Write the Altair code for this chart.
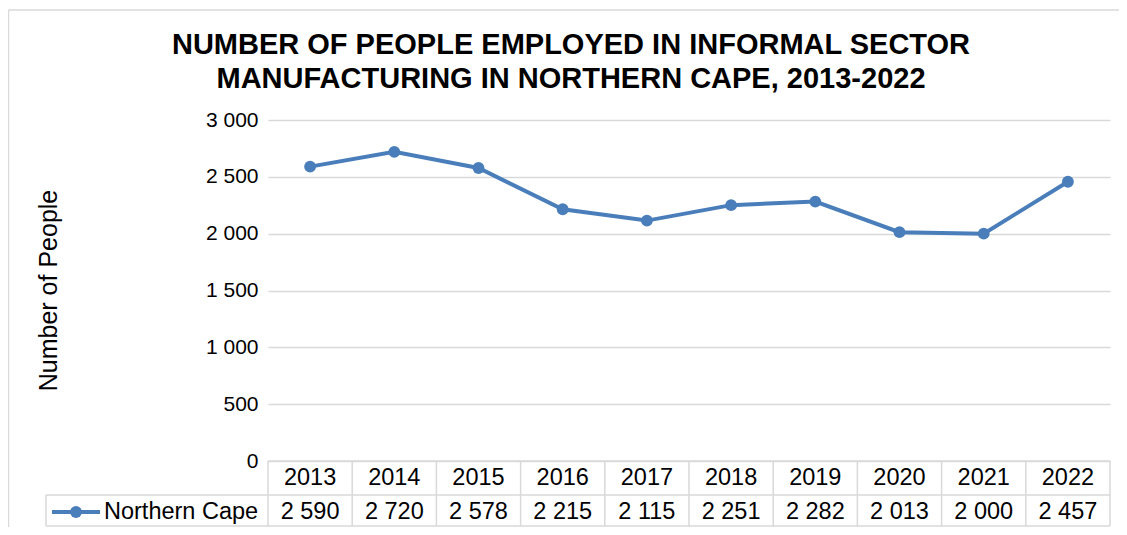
import altair as alt
import pandas as pd

years = [2013, 2014, 2015, 2016, 2017, 2018, 2019, 2020, 2021, 2022]
employed = [2590, 2720, 2578, 2215, 2115, 2251, 2282, 2013, 2000, 2457]
series_name = "Northern Cape"
y_ticks = [0, 500, 1000, 1500, 2000, 2500, 3000]
title_lines = ["NUMBER OF PEOPLE EMPLOYED IN INFORMAL SECTOR",
               "MANUFACTURING IN NORTHERN CAPE, 2013-2022"]
y_title = "Number of People"

df = pd.DataFrame({"year": [str(y) for y in years], "value": employed})

FONT = "Liberation Sans"
BLUE = "#4a7ebb"
GRID = "#d9d9d9"
W, H = 842, 341
ROW1, ROW2 = 341 + 34, 406
TXT = 23.5

xs = alt.X("year:O", scale=alt.Scale(type="band", paddingInner=0, paddingOuter=0),
           axis=None, sort=None)

base = alt.Chart(df)

line = base.mark_line(color=BLUE, strokeWidth=4,
                      point=alt.OverlayMarkDef(color=BLUE, size=140, filled=True, opacity=1)).encode(
    x=xs,
    y=alt.Y("value:Q", scale=alt.Scale(domain=[0, 3000], nice=False),
            axis=alt.Axis(values=y_ticks, grid=True, gridColor=GRID, gridWidth=1.5,
                          domain=False, ticks=False, labelPadding=10,
                          labelFont=FONT, labelFontSize=21, labelColor="#000000",
                          labelExpr="replace(format(datum.value, ','), ',', ' ')",
                          title=y_title, titleFont=FONT, titleFontSize=25,
                          titleFontWeight="normal", titleColor="#000000",
                          titleAngle=-90, titleX=-220, titleY=170,
                          titleAlign="center", titleBaseline="middle")),
)

header_text = base.mark_text(font=FONT, fontSize=TXT, color="#000000", baseline="middle").encode(
    x=xs, y=alt.value(358), text="year:N")

value_text = base.transform_calculate(
    lab="replace(format(datum.value, ','), ',', ' ')"
).mark_text(font=FONT, fontSize=TXT, color="#000000", baseline="middle").encode(
    x=xs, y=alt.value(392), text="lab:N")

vlines = base.mark_rule(color=GRID, strokeWidth=1.5).encode(
    x=alt.X("year:O", bandPosition=0, scale=alt.Scale(type="band", paddingInner=0, paddingOuter=0),
            axis=None, sort=None),
    y=alt.value(341), y2=alt.value(ROW2))

one = alt.Chart(pd.DataFrame({"k": [0]}))

def rule(x, x2, y, y2, color=GRID, w=1.5):
    return one.mark_rule(color=color, strokeWidth=w).encode(
        x=alt.value(x), x2=alt.value(x2), y=alt.value(y), y2=alt.value(y2))

table_lines = [
    rule(W, W, 341, ROW2),
    rule(0, W, 341, 341),
    rule(-222, W, ROW1, ROW1),
    rule(-222, W, ROW2, ROW2),
    rule(-222, -222, ROW1, ROW2),
    rule(-259.5, -259.5, -110, 407),
    rule(-259.5, 860, -110, -110),
]

legend_line = one.mark_rule(color=BLUE, strokeWidth=4).encode(
    x=alt.value(-216), x2=alt.value(-168), y=alt.value(392), y2=alt.value(392))
legend_pt = one.mark_point(color=BLUE, filled=True, size=140, opacity=1).encode(
    x=alt.value(-192), y=alt.value(392))
legend_txt = one.mark_text(font=FONT, fontSize=TXT, color="#000000", align="left",
                           baseline="middle", text=series_name).encode(
    x=alt.value(-164), y=alt.value(392))

chart = alt.layer(
    *table_lines, vlines, line, header_text, value_text,
    legend_line, legend_pt, legend_txt
).properties(
    width=W, height=H,
    title=alt.Title(title_lines, font=FONT, fontSize=29, fontWeight="bold",
                    color="#000000", anchor="middle", dx=-118, offset=-85, lineHeight=34),
    autosize=alt.AutoSizeParams(type="none"),
    padding={"left": 260, "top": 112, "right": 9, "bottom": 66},
).configure_view(stroke=None)

chart.save("out.html", embed_options={"renderer": "svg", "actions": False})
